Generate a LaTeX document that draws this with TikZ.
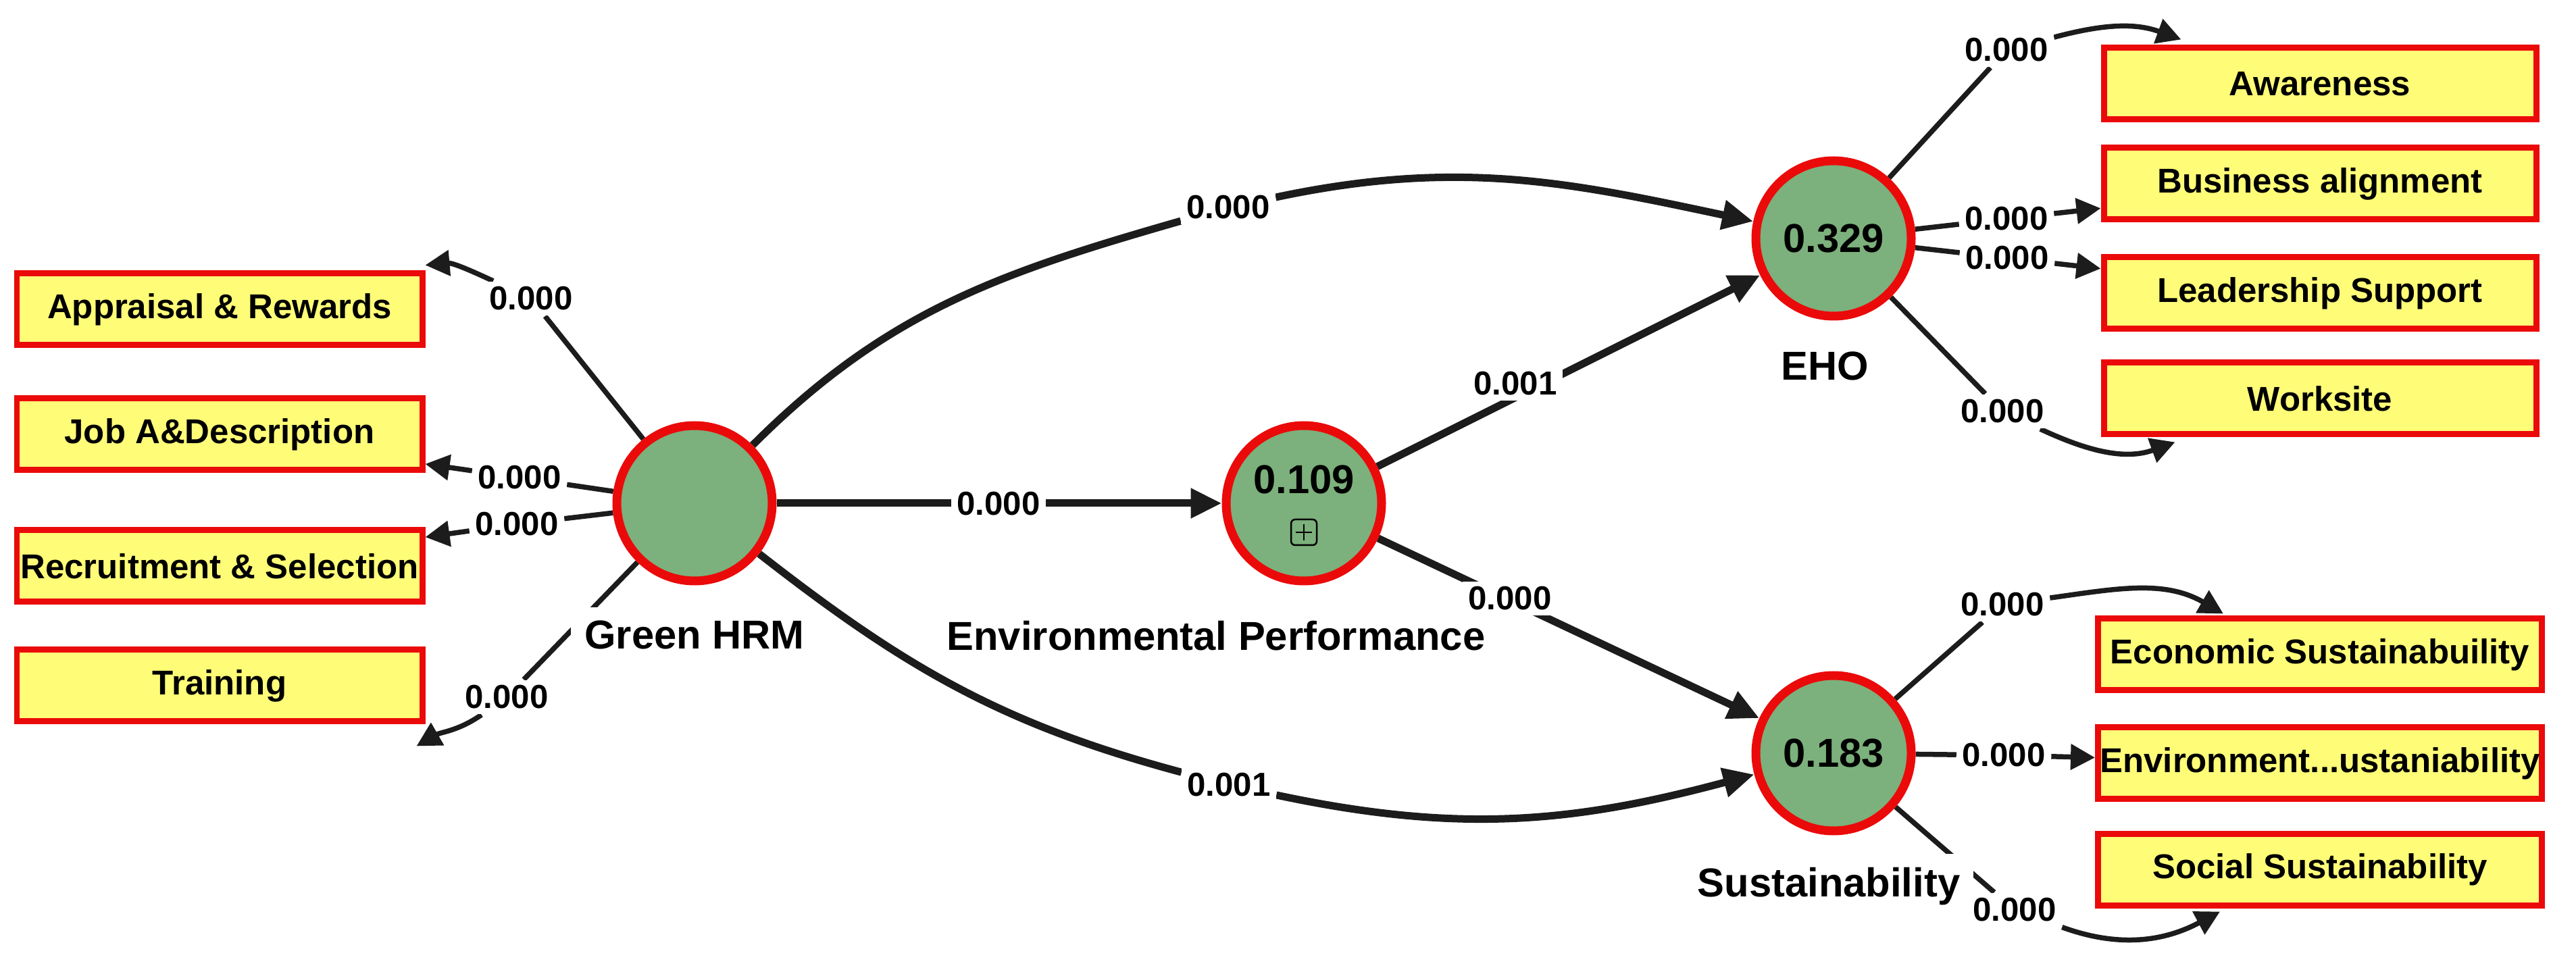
\documentclass[tikz,border=0pt]{standalone}
\usepackage{fontspec}
\setmainfont{Liberation Sans}
\usetikzlibrary{positioning,arrows.meta,backgrounds,calc}
\definecolor{lvgreen}{RGB}{124,176,124}
\definecolor{lvred}{RGB}{235,10,10}
\definecolor{mvyellow}{RGB}{255,253,120}
\definecolor{edgeblack}{RGB}{28,28,28}

\begin{document}
\begin{tikzpicture}[on grid,
	lv/.style={circle, fill=lvgreen, draw=lvred, line width=0.13cm, minimum size=2.30cm, inner sep=0pt, font=\bfseries\fontsize{17}{20}\selectfont},
	lvval/.style={inner sep=0pt, font=\bfseries\fontsize{17}{20}\selectfont},
	lvname/.style={fill=white, inner sep=0.2cm, font=\bfseries\fontsize{17}{20}\selectfont},
	mv/.style={rectangle, fill=mvyellow, draw=lvred, line width=0.09cm, minimum height=1.06cm, inner sep=0pt, font=\bfseries\fontsize{14.5}{17}\selectfont},
	coef/.style={fill=white, inner sep=0.08cm, font=\bfseries\fontsize{14}{16}\selectfont},
	bigarrow/.style={draw=edgeblack, line width=0.11cm, -{Triangle[length=0.46cm,width=0.42cm]}},
	smallarrow/.style={draw=edgeblack, line width=0.075cm, -{Triangle[length=0.36cm,width=0.37cm]}}]
	\useasboundingbox (0,0) rectangle (38.13,-14.30);

	\node[lv] (ghrm) at (10.28,-7.45) {};
	\node[lv] (ep) [right=9.02cm of ghrm] {};
	\node[lv] (eho) [above right=3.92cm and 7.84cm of ep] {0.329};
	\node[lv] (sus) [below right=3.70cm and 7.84cm of ep] {0.183};
	\node[lvval] (epv) [above=0.35cm of ep] {0.109};
	\node[draw, line width=0.025cm, rounded corners=0.06cm, minimum size=0.38cm, inner sep=0pt] (ic) [below=0.43cm of ep] {};
	\draw[line width=0.025cm] ([xshift=0.08cm]ic.west) -- ([xshift=-0.08cm]ic.east)
		([yshift=-0.08cm]ic.north) -- ([yshift=0.08cm]ic.south);

	\node[lvname] (ghrmt) [below=1.95cm of ghrm] {Green HRM};
	\node[lvname] (ept) [below left=1.96cm and 1.30cm of ep] {Environmental Performance};
	\node[lvname] (ehot) [below left=1.89cm and 0.13cm of eho] {EHO};
	\node[lvname] (sust) [below left=1.97cm and 0.07cm of sus] {Sustainability};

	\node[mv, minimum width=6.00cm] (ar) [above left=2.87cm and 7.03cm of ghrm] {Appraisal \& Rewards};
	\node[mv, minimum width=6.00cm] (jd) [above left=1.02cm and 7.03cm of ghrm] {Job A\&Description};
	\node[mv, minimum width=6.00cm] (rs) [below left=0.93cm and 7.03cm of ghrm] {Recruitment \& Selection};
	\node[mv, minimum width=6.00cm] (tr) [below left=2.70cm and 7.03cm of ghrm] {Training};
	\node[mv, minimum width=6.40cm] (aw) [above right=2.29cm and 7.20cm of eho] {Awareness};
	\node[mv, minimum width=6.40cm] (ba) [above right=0.81cm and 7.20cm of eho] {Business alignment};
	\node[mv, minimum width=6.40cm] (ls) [below right=0.81cm and 7.20cm of eho] {Leadership Support};
	\node[mv, minimum width=6.40cm] (ws) [below right=2.37cm and 7.20cm of eho] {Worksite};
	\node[mv, minimum width=6.57cm] (ec) [above right=1.46cm and 7.20cm of sus] {Economic Sustainabuility};
	\node[mv, minimum width=6.57cm] (en) [below right=0.15cm and 7.20cm of sus] {Environment...ustaniability};
	\node[mv, minimum width=6.57cm] (so) [below right=1.72cm and 7.20cm of sus] {Social Sustainability};

	\node[coef] (lar) at (7.86,-4.42) {0.000};
	\node[coef] (ljd) at (7.69,-7.07) {0.000};
	\node[coef] (lrs) at (7.65,-7.76) {0.000};
	\node[coef] (ltr) at (7.50,-10.32) {0.000};
	\node[coef] (l1) at (18.18,-3.07) {0.000};
	\node[coef] (l2) at (14.78,-7.46) {0.000};
	\node[coef] (l3) at (22.43,-5.68) {0.001};
	\node[coef] (l4) at (22.35,-8.86) {0.000};
	\node[coef] (l5) at (18.19,-11.62) {0.001};
	\node[coef] (law) at (29.70,-0.74) {0.000};
	\node[coef] (lba) at (29.70,-3.24) {0.000};
	\node[coef] (lls) at (29.71,-3.82) {0.000};
	\node[coef] (lws) at (29.64,-6.09) {0.000};
	\node[coef] (lec) at (29.64,-8.95) {0.000};
	\node[coef] (len) at (29.66,-11.18) {0.000};
	\node[coef] (lso) at (29.82,-13.47) {0.000};

	\begin{scope}[on background layer]
		\path[bigarrow] (ghrm) -- (ep);
		\path[bigarrow] (ep) -- (eho);
		\path[bigarrow] (ep) -- (sus);
		\path[bigarrow] (ghrm) to[out=45, in=196] (l1) to[out=12, in=168] (eho);
		\path[bigarrow] (ghrm) to[out=-38, in=165] (l5) to[out=-12, in=195] (sus);

		\path[smallarrow] (ghrm) -- (lar) to[out=155, in=5] ($(ar.north east)+(0,0.08)$);
		\path[smallarrow] (ghrm) -- (ljd) -- (jd);
		\path[smallarrow] (ghrm) -- (lrs) -- (rs);
		\path[smallarrow] (ghrm) -- (ltr) to[out=215, in=30] ($(tr.south east)+(-0.13,-0.32)$);

		\path[smallarrow] (eho) -- (law) to[out=15, in=160] ($(aw.north west)+(1.19,0.08)$);
		\path[smallarrow] (eho) -- (lba) -- (ba);
		\path[smallarrow] (eho) -- (lls) -- (ls);
		\path[smallarrow] (eho) -- (lws) to[out=-25, in=200] ($(ws.south west)+(1.10,-0.07)$);

		\path[smallarrow] (sus) -- (lec) to[out=8, in=150] ($(ec.north west)+(1.90,0.03)$);
		\path[smallarrow] (sus) -- (len) -- (en);
		\path[smallarrow] (sus) -- (lso) to[out=-20, in=208] ($(so.south west)+(1.85,-0.05)$);
	\end{scope}
\end{tikzpicture}
\end{document}
